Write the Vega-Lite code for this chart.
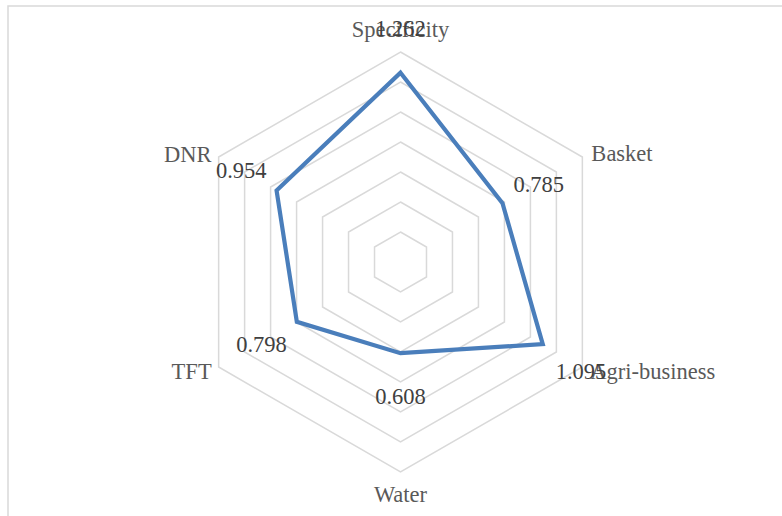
{
  "$schema": "https://vega.github.io/schema/vega-lite/v6.json",
  "width": 780,
  "height": 516,
  "autosize": {"type": "none"},
  "padding": {"left": 8, "top": 6, "right": 0, "bottom": 0},
  "background": "#ffffff",
  "config": {"view": {"stroke": "#d9d9d9", "strokeWidth": 1.5}},
  "datasets": {
    "scores": [
      {"axis": "Specificity", "value": 1.262},
      {"axis": "Basket", "value": 0.785},
      {"axis": "Agri-business", "value": 1.095},
      {"axis": "Water", "value": 0.608},
      {"axis": "TFT", "value": 0.798},
      {"axis": "DNR", "value": 0.954}
    ],
    "grid": [
      {"level": 0.2, "axis": ["Specificity", "Basket", "Agri-business", "Water", "TFT", "DNR"]},
      {"level": 0.4, "axis": ["Specificity", "Basket", "Agri-business", "Water", "TFT", "DNR"]},
      {"level": 0.6, "axis": ["Specificity", "Basket", "Agri-business", "Water", "TFT", "DNR"]},
      {"level": 0.8, "axis": ["Specificity", "Basket", "Agri-business", "Water", "TFT", "DNR"]},
      {"level": 1.0, "axis": ["Specificity", "Basket", "Agri-business", "Water", "TFT", "DNR"]},
      {"level": 1.2, "axis": ["Specificity", "Basket", "Agri-business", "Water", "TFT", "DNR"]},
      {"level": 1.4, "axis": ["Specificity", "Basket", "Agri-business", "Water", "TFT", "DNR"]}
    ]
  },
  "layer": [
    {
      "data": {"name": "grid"},
      "transform": [
        {"flatten": ["axis"]},
        {"calculate": "indexof(['Specificity','Basket','Agri-business','Water','TFT','DNR'], datum.axis)", "as": "k"},
        {"calculate": "datum.level * sin(datum.k * PI / 3)", "as": "x"},
        {"calculate": "datum.level * cos(datum.k * PI / 3)", "as": "y"}
      ],
      "mark": {"type": "line", "interpolate": "linear-closed", "stroke": "#d9d9d9", "strokeWidth": 1.5},
      "encoding": {
        "x": {"field": "x", "type": "quantitative", "axis": null, "scale": {"domain": [-2.6167, 2.5833], "nice": false, "zero": false}},
        "y": {"field": "y", "type": "quantitative", "axis": null, "scale": {"domain": [-1.7333, 1.7067], "nice": false, "zero": false}},
        "detail": {"field": "level", "type": "nominal"},
        "order": {"field": "k", "type": "quantitative"}
      }
    },
    {
      "data": {"name": "scores"},
      "transform": [
        {"calculate": "indexof(['Specificity','Basket','Agri-business','Water','TFT','DNR'], datum.axis)", "as": "k"},
        {"calculate": "datum.value * sin(datum.k * PI / 3)", "as": "x"},
        {"calculate": "datum.value * cos(datum.k * PI / 3)", "as": "y"},
        {"calculate": "1.4 * sin(datum.k * PI / 3)", "as": "lx"},
        {"calculate": "1.4 * cos(datum.k * PI / 3)", "as": "ly"}
      ],
      "layer": [
        {
          "mark": {"type": "line", "interpolate": "linear-closed", "stroke": "#4a7ebb", "strokeWidth": 4.2},
          "encoding": {
            "x": {"field": "x", "type": "quantitative", "axis": null},
            "y": {"field": "y", "type": "quantitative", "axis": null},
            "order": {"field": "k", "type": "quantitative"}
          }
        },
        {
          "transform": [{"filter": "datum.axis == 'Specificity'"}],
          "mark": {"type": "text", "align": "center", "baseline": "alphabetic", "dy": -15, "font": "Liberation Serif", "fontSize": 22.5, "color": "#595959"},
          "encoding": {"x": {"field": "lx", "type": "quantitative"}, "y": {"field": "ly", "type": "quantitative"}, "text": {"field": "axis"}}
        },
        {
          "transform": [{"filter": "datum.axis == 'Basket'"}],
          "mark": {"type": "text", "align": "left", "baseline": "alphabetic", "dx": 9, "dy": 4, "font": "Liberation Serif", "fontSize": 22.5, "color": "#595959"},
          "encoding": {"x": {"field": "lx", "type": "quantitative"}, "y": {"field": "ly", "type": "quantitative"}, "text": {"field": "axis"}}
        },
        {
          "transform": [{"filter": "datum.axis == 'Agri-business'"}],
          "mark": {"type": "text", "align": "left", "baseline": "alphabetic", "dx": 8, "dy": 12, "font": "Liberation Serif", "fontSize": 22.5, "color": "#595959"},
          "encoding": {"x": {"field": "lx", "type": "quantitative"}, "y": {"field": "ly", "type": "quantitative"}, "text": {"field": "axis"}}
        },
        {
          "transform": [{"filter": "datum.axis == 'Water'"}],
          "mark": {"type": "text", "align": "center", "baseline": "alphabetic", "dy": 30, "font": "Liberation Serif", "fontSize": 22.5, "color": "#595959"},
          "encoding": {"x": {"field": "lx", "type": "quantitative"}, "y": {"field": "ly", "type": "quantitative"}, "text": {"field": "axis"}}
        },
        {
          "transform": [{"filter": "datum.axis == 'TFT'"}],
          "mark": {"type": "text", "align": "right", "baseline": "alphabetic", "dx": -7, "dy": 12, "font": "Liberation Serif", "fontSize": 22.5, "color": "#595959"},
          "encoding": {"x": {"field": "lx", "type": "quantitative"}, "y": {"field": "ly", "type": "quantitative"}, "text": {"field": "axis"}}
        },
        {
          "transform": [{"filter": "datum.axis == 'DNR'"}],
          "mark": {"type": "text", "align": "right", "baseline": "alphabetic", "dx": -7, "dy": 5, "font": "Liberation Serif", "fontSize": 22.5, "color": "#595959"},
          "encoding": {"x": {"field": "lx", "type": "quantitative"}, "y": {"field": "ly", "type": "quantitative"}, "text": {"field": "axis"}}
        },
        {
          "transform": [{"filter": "datum.axis == 'Specificity'"}],
          "mark": {"type": "text", "align": "center", "baseline": "alphabetic", "dy": -37, "font": "Liberation Serif", "fontSize": 22.5, "color": "#404040"},
          "encoding": {"x": {"field": "x", "type": "quantitative"}, "y": {"field": "y", "type": "quantitative"}, "text": {"field": "value", "type": "quantitative", "format": ".3f"}}
        },
        {
          "transform": [{"filter": "datum.axis == 'Basket'"}],
          "mark": {"type": "text", "align": "left", "baseline": "alphabetic", "dx": 11, "dy": -11, "font": "Liberation Serif", "fontSize": 22.5, "color": "#404040"},
          "encoding": {"x": {"field": "x", "type": "quantitative"}, "y": {"field": "y", "type": "quantitative"}, "text": {"field": "value", "type": "quantitative", "format": ".3f"}}
        },
        {
          "transform": [{"filter": "datum.axis == 'Agri-business'"}],
          "mark": {"type": "text", "align": "left", "baseline": "alphabetic", "dx": 13, "dy": 35, "font": "Liberation Serif", "fontSize": 22.5, "color": "#404040"},
          "encoding": {"x": {"field": "x", "type": "quantitative"}, "y": {"field": "y", "type": "quantitative"}, "text": {"field": "value", "type": "quantitative", "format": ".3f"}}
        },
        {
          "transform": [{"filter": "datum.axis == 'Water'"}],
          "mark": {"type": "text", "align": "center", "baseline": "alphabetic", "dy": 51, "font": "Liberation Serif", "fontSize": 22.5, "color": "#404040"},
          "encoding": {"x": {"field": "x", "type": "quantitative"}, "y": {"field": "y", "type": "quantitative"}, "text": {"field": "value", "type": "quantitative", "format": ".3f"}}
        },
        {
          "transform": [{"filter": "datum.axis == 'TFT'"}],
          "mark": {"type": "text", "align": "right", "baseline": "alphabetic", "dx": -10, "dy": 30, "font": "Liberation Serif", "fontSize": 22.5, "color": "#404040"},
          "encoding": {"x": {"field": "x", "type": "quantitative"}, "y": {"field": "y", "type": "quantitative"}, "text": {"field": "value", "type": "quantitative", "format": ".3f"}}
        },
        {
          "transform": [{"filter": "datum.axis == 'DNR'"}],
          "mark": {"type": "text", "align": "right", "baseline": "alphabetic", "dx": -10, "dy": -12, "font": "Liberation Serif", "fontSize": 22.5, "color": "#404040"},
          "encoding": {"x": {"field": "x", "type": "quantitative"}, "y": {"field": "y", "type": "quantitative"}, "text": {"field": "value", "type": "quantitative", "format": ".3f"}}
        }
      ]
    }
  ]
}
